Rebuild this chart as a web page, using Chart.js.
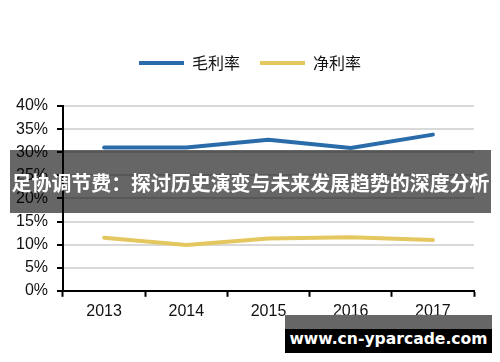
<!DOCTYPE html>
<html>
<head>
<meta charset="utf-8">
<script src="https://cdn.jsdelivr.net/npm/chart.js@4.4.1/dist/chart.umd.min.js"></script>
<style>
    html, body { margin: 0; padding: 0; background: #fff; }
    #wrap { position: relative; width: 500px; height: 362px; overflow: hidden; }
    #banner {
        position: absolute; left: 10px; top: 150px; width: 481px; height: 63px;
        background: rgba(0, 0, 0, 0.6); color: #fff;
        font: bold 20px "Noto Sans CJK SC", sans-serif;
        line-height: 66px; text-align: center; white-space: nowrap;
    }
    #banner span { display: inline-block; }
    #mark { position: absolute; left: 285px; top: 315px; width: 207px; height: 38px; }
    #mark .top { height: 14px; background: #666; }
    #mark .bottom {
        height: 24px; background: #000; color: #fff; text-align: center;
        font: bold 15.6px "DejaVu Sans", sans-serif; line-height: 20px; white-space: nowrap;
    }
</style>
</head>
<body>
<div id="wrap">
    <canvas id="trendChart" width="500" height="362"></canvas>
    <div id="banner"><span id="bannerText">足协调节费：探讨历史演变与未来发展趋势的深度分析</span></div>
    <div id="mark"><div class="top"></div><div class="bottom">www.cn-yparcade.com</div></div>
</div>
<script>
// data
const years = ['2013', '2014', '2015', '2016', '2017'];
const grossMargin = [31.0, 31.0, 32.7, 30.9, 33.8];
const netMargin = [11.5, 9.9, 11.3, 11.6, 11.0];
const seriesNames = ['毛利率', '净利率'];

// shrink the banner title so it spans about 478px like the original
const bannerText = document.getElementById('bannerText');
const w = bannerText.getBoundingClientRect().width;
if (w > 0) {
    bannerText.style.fontSize = (20 * 478 / w).toFixed(2) + 'px';
}

// push the chart area down a bit below the legend
const legendGap = {
    id: 'legendGap',
    beforeInit(chart) {
        const origFit = chart.legend.fit;
        chart.legend.fit = function fit() {
            origFit.bind(chart.legend)();
            this.height += 25;
        };
    }
};

const ctx = document.getElementById('trendChart');
new Chart(ctx, {
    type: 'line',
    data: {
        labels: years,
        datasets: [{
            label: seriesNames[0],
            data: grossMargin,
            borderColor: '#2a6ca9',
            backgroundColor: '#2a6ca9',
            borderWidth: 4,
            borderCapStyle: 'round',
            borderJoinStyle: 'round',
            pointRadius: 0,
            tension: 0
        }, {
            label: seriesNames[1],
            data: netMargin,
            borderColor: '#e5c760',
            backgroundColor: '#e5c760',
            borderWidth: 4,
            borderCapStyle: 'round',
            borderJoinStyle: 'round',
            pointRadius: 0,
            tension: 0
        }]
    },
    options: {
        responsive: false,
        animation: false,
        layout: { padding: { top: 35, right: 0, bottom: 36, left: 0 } },
        plugins: {
            tooltip: { enabled: false },
            legend: {
                position: 'top',
                labels: {
                    usePointStyle: true,
                    pointStyle: 'line',
                    pointStyleWidth: 45,
                    boxHeight: 4,
                    padding: 20,
                    color: '#111',
                    font: { family: '"Noto Sans CJK SC", sans-serif', size: 16 }
                }
            }
        },
        scales: {
            x: {
                offset: true,
                grid: {
                    offset: true,
                    drawOnChartArea: false,
                    drawTicks: true,
                    tickLength: 6,
                    tickColor: '#000',
                    tickWidth: 2
                },
                border: { display: true, color: '#000', width: 2 },
                ticks: {
                    color: '#111',
                    padding: 5,
                    font: { family: '"Liberation Sans", Arial, sans-serif', size: 16 }
                }
            },
            y: {
                min: 0,
                max: 40,
                afterFit(scale) { scale.width = 63; },
                grid: {
                    color: '#d9d9d9',
                    lineWidth: 2,
                    tickColor: '#000',
                    tickWidth: 2,
                    tickLength: 6
                },
                border: { display: true, color: '#000', width: 2 },
                ticks: {
                    stepSize: 5,
                    color: '#111',
                    padding: 9,
                    font: { family: '"Liberation Sans", Arial, sans-serif', size: 16 },
                    callback: (v) => v + '%'
                }
            },
            // empty right-hand spacer so the legend stays centred on the page
            yRight: {
                position: 'right',
                min: 0,
                max: 40,
                afterFit(scale) { scale.width = 26; },
                grid: { display: false },
                border: { display: false },
                ticks: { display: false }
            }
        }
    },
    plugins: [legendGap]
});
</script>
</body>
</html>
